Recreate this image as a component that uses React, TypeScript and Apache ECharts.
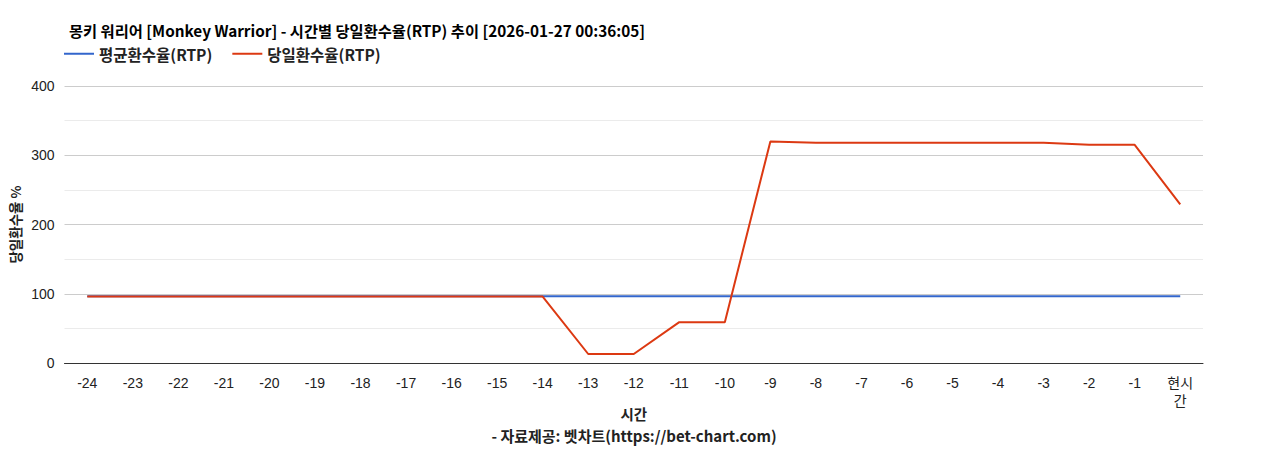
import { useEffect, useRef } from "react";
import * as echarts from "echarts";

const hours = [
  "-24", "-23", "-22", "-21", "-20", "-19", "-18", "-17", "-16", "-15", "-14", "-13",
  "-12", "-11", "-10", "-9", "-8", "-7", "-6", "-5", "-4", "-3", "-2", "-1", "현시간",
];

const avgRtp = [
  96.5, 96.5, 96.5, 96.5, 96.5, 96.5, 96.5, 96.5, 96.5, 96.5, 96.5, 96.5,
  96.5, 96.5, 96.5, 96.5, 96.5, 96.5, 96.5, 96.5, 96.5, 96.5, 96.5, 96.5, 96.5,
];

const dailyRtp = [
  96, 96, 96, 96, 96, 96, 96, 96, 96, 96, 96, 13,
  13, 59, 59, 320, 318, 318, 318, 318, 318, 318, 315, 315, 229,
];

const titleText = "몽키 워리어 [Monkey Warrior] - 시간별 당일환수율(RTP) 추이 [2026-01-27 00:36:05]";
const sourceText = "- 자료제공: 벳차트(https://bet-chart.com)";

const FONT = "Arial, 'Liberation Sans', 'Noto Sans CJK KR', sans-serif";
const KFONT = "'Noto Sans CJK KR', sans-serif";

const App = () => {
  const chartRef = useRef<HTMLDivElement | null>(null);

  useEffect(() => {
    if (!chartRef.current) {
      return;
    }
    document.body.style.margin = "0";
    const instance = echarts.init(chartRef.current, undefined, { renderer: "svg" });

    const option: echarts.EChartsOption = {
      animation: false,
      backgroundColor: "#ffffff",
      textStyle: { fontFamily: FONT, color: "#222222" },
      title: {
        text: titleText,
        left: 64,
        top: 17,
        textStyle: { fontSize: 15.3, fontWeight: "bold", color: "#000000", fontFamily: KFONT },
      },
      legend: {
        left: 59,
        top: 41,
        itemWidth: 30,
        itemHeight: 2,
        itemGap: 20,
        icon: "rect",
        textStyle: { fontSize: 15.5, fontWeight: "bold", color: "#222222", fontFamily: KFONT },
        data: ["평균환수율(RTP)", "당일환수율(RTP)"],
      },
      grid: { left: 64, right: 65, top: 86, bottom: 87 },
      xAxis: {
        type: "category",
        data: hours,
        boundaryGap: true,
        name: "시간",
        nameLocation: "middle",
        nameGap: 43,
        nameMoveOverlap: false,
        nameTextStyle: {
          fontSize: 14.5,
          lineHeight: 14,
          fontWeight: "bold",
          color: "#222222",
          fontFamily: KFONT,
        },
        axisLine: { lineStyle: { color: "#333333", width: 1 } },
        axisTick: { show: false },
        axisLabel: {
          color: "#222222",
          fontSize: 14,
          margin: 11,
          interval: 0,
          lineHeight: 18,
          formatter: (v: string) => (v === "현시간" ? "현시\n간" : v),
        },
        splitLine: { show: false },
      },
      yAxis: {
        type: "value",
        min: 0,
        max: 400,
        interval: 100,
        name: "당일환수율 %",
        nameLocation: "middle",
        nameGap: 43,
        nameRotate: 90,
        nameMoveOverlap: false,
        nameTextStyle: { fontSize: 13.5, fontWeight: "bold", color: "#222222", fontFamily: KFONT },
        axisLine: { show: false },
        axisTick: { show: false },
        axisLabel: { color: "#222222", fontSize: 14, margin: 10 },
        splitLine: { lineStyle: { color: "#cccccc", width: 1 } },
        minorTick: { show: false, splitNumber: 2 },
        minorSplitLine: { show: true, lineStyle: { color: "#ebebeb", width: 1 } },
      },
      graphic: [
        {
          type: "text",
          left: "center",
          top: 428,
          style: {
            text: sourceText,
            fontSize: 15,
            lineHeight: 15,
            fontWeight: "bold",
            fill: "#222222",
            fontFamily: KFONT,
          },
        },
      ],
      series: [
        {
          name: "평균환수율(RTP)",
          type: "line",
          data: avgRtp,
          showSymbol: false,
          lineStyle: { width: 2, color: "#3366cc" },
          itemStyle: { color: "#3366cc" },
        },
        {
          name: "당일환수율(RTP)",
          type: "line",
          data: dailyRtp,
          showSymbol: false,
          lineStyle: { width: 2, color: "#dc3912" },
          itemStyle: { color: "#dc3912" },
        },
      ],
    };

    instance.setOption(option);
    return () => {
      instance.dispose();
    };
  }, []);

  return (
    <div
      ref={chartRef}
      style={{ position: "absolute", left: 0, top: 0, width: 1268, height: 450 }}
    />
  );
};

export default App;
